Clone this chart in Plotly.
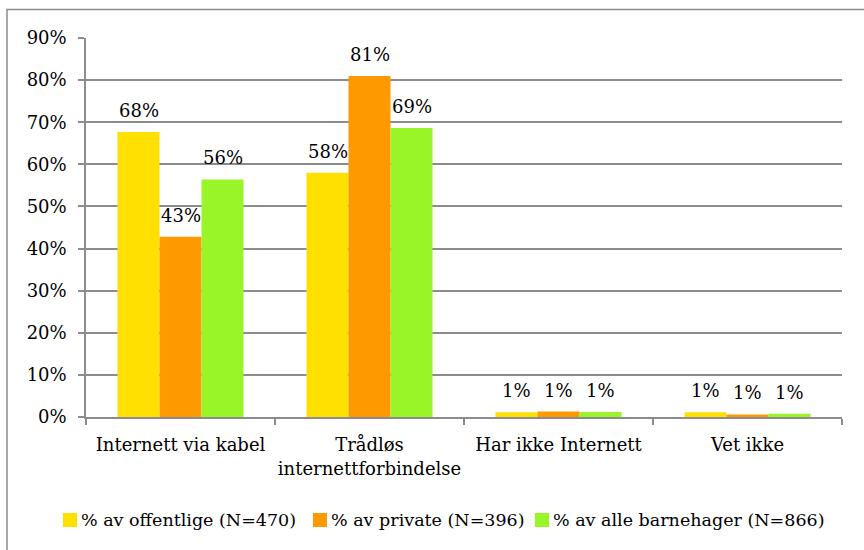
import plotly.graph_objects as go

categories = ["Internett via kabel", "Trådløs<br>internettforbindelse", "Har ikke Internett", "Vet ikke"]
series_names = ["% av offentlige (N=470)", "% av private (N=396)", "% av alle barnehager (N=866)"]
offentlige = [67.7, 58.0, 1.1, 1.1]
private = [42.8, 81.0, 1.3, 0.6]
alle = [56.4, 68.6, 1.2, 0.8]
colors = ["#FFE000", "#FF9900", "#99F527"]
y_ticks = [0, 10, 20, 30, 40, 50, 60, 70, 80, 90]
y_tick_labels = ["0%", "10%", "20%", "30%", "40%", "50%", "60%", "70%", "80%", "90%"]

FONT = "DejaVu Serif"
FS = 18
W, H = 864, 550
ML, MR, MT, MB = 86, 22, 38, 133
PW, PH = W - ML - MR, H - MT - MB


def px_x(px):
    return (px - ML) / PW


def px_y(py):
    return (H - MB - py) / PH


fig = go.Figure()
all_series = [offentlige, private, alle]
for name, vals, col in zip(series_names, all_series, colors):
    fig.add_trace(go.Bar(
        x=categories, y=vals, name=name, marker=dict(color=col, line=dict(width=0)),
        showlegend=False,
    ))

annotations = []
bar_px = 42
for i, vals in enumerate(all_series):
    for cat, v in zip(categories, vals):
        annotations.append(dict(
            x=cat, y=v, xref="x", yref="y", text=f"{round(v + 1e-9):.0f}%", showarrow=False,
            xshift=(i - 1) * bar_px, yanchor="bottom", yshift=9,
            font=dict(family=FONT, size=FS, color="#000"),
        ))

grid = "#8c8c8c"
shapes = [dict(type="rect", xref="paper", yref="paper", x0=px_x(7), y0=px_y(9.5), x1=px_x(900),
               y1=px_y(600), line=dict(color=grid, width=1.5), fillcolor="rgba(0,0,0,0)",
               layer="above")]

# manual legend
legend_sq_x = [63, 313, 535]
legend_y = 520
for name, col, sx in zip(series_names, colors, legend_sq_x):
    shapes.append(dict(type="rect", xref="paper", yref="paper", x0=px_x(sx), x1=px_x(sx + 14),
                       y0=px_y(legend_y - 7), y1=px_y(legend_y + 7), line=dict(width=0),
                       fillcolor=col))
    annotations.append(dict(x=px_x(sx + 16), y=px_y(legend_y), xref="paper", yref="paper",
                            xanchor="left", yanchor="middle", text=name, showarrow=False,
                            font=dict(family=FONT, size=17.5, color="#000")))

fig.update_layout(
    width=W, height=H,
    margin=dict(l=ML, r=MR, t=MT, b=MB),
    paper_bgcolor="white", plot_bgcolor="white",
    barmode="group", bargap=0.333, bargroupgap=0,
    font=dict(family=FONT, size=FS, color="#000"),
    showlegend=False,
    xaxis=dict(showline=True, linecolor=grid, linewidth=1.5, ticks="outside", tickson="boundaries",
               ticklen=6, tickcolor=grid, tickwidth=1.5, showgrid=False, tickangle=0,
               ticklabelstandoff=11),
    yaxis=dict(range=[0, 90], tickmode="array", tickvals=y_ticks, ticktext=y_tick_labels,
               showline=True, linecolor=grid,
               linewidth=1.5, ticks="outside", ticklen=6, tickcolor=grid, tickwidth=1.5,
               gridcolor=grid, gridwidth=1.5, zeroline=False, ticklabelstandoff=8),
    annotations=annotations,
    shapes=shapes,
)
fig.write_html("out.html", post_script="document.body.style.margin='0';",
               config={"displayModeBar": False})
